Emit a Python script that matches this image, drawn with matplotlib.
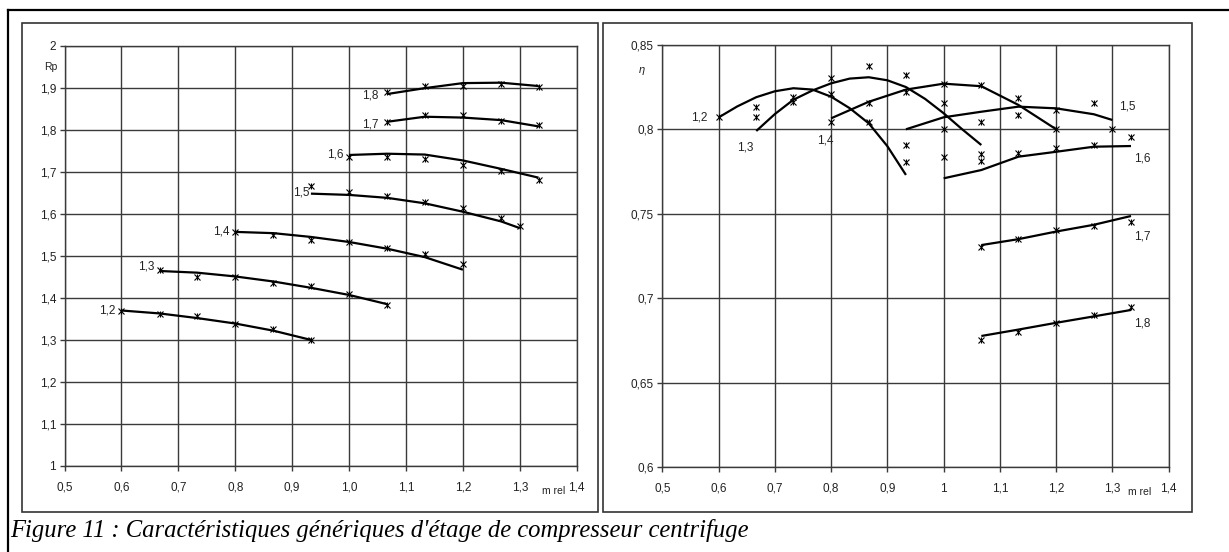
import matplotlib
matplotlib.use("Agg")
import matplotlib.pyplot as plt
from matplotlib.patches import Rectangle
from matplotlib.lines import Line2D

plt.rcParams['font.family'] = ['Liberation Sans', 'DejaVu Sans']

# ---- left panel : pressure ratio Rp vs relative mass flow ----
rp_labels = ['1,2', '1,3', '1,4', '1,5', '1,6', '1,7', '1,8']
rp_x = [
    [0.6, 0.667, 0.733, 0.8, 0.867, 0.933],
    [0.667, 0.733, 0.8, 0.867, 0.933, 1.0, 1.067],
    [0.8, 0.867, 0.933, 1.0, 1.067, 1.133, 1.2],
    [0.933, 1.0, 1.067, 1.133, 1.2, 1.267, 1.3],
    [1.0, 1.067, 1.133, 1.2, 1.267, 1.333],
    [1.067, 1.133, 1.2, 1.267, 1.333],
    [1.067, 1.133, 1.2, 1.267, 1.333],
]
rp_points = [
    [1.369, 1.361, 1.356, 1.339, 1.325, 1.300],
    [1.466, 1.450, 1.449, 1.436, 1.428, 1.409, 1.384],
    [1.557, 1.549, 1.537, 1.533, 1.518, 1.504, 1.480],
    [1.666, 1.652, 1.643, 1.629, 1.614, 1.589, 1.571],
    [1.734, 1.734, 1.730, 1.717, 1.703, 1.681],
    [1.819, 1.834, 1.834, 1.822, 1.812],
    [1.890, 1.904, 1.905, 1.910, 1.902],
]
rp_fit = [
    [1.370, 1.363, 1.352, 1.339, 1.322, 1.300],
    [1.464, 1.460, 1.451, 1.439, 1.424, 1.407, 1.385],
    [1.557, 1.554, 1.545, 1.533, 1.517, 1.497, 1.467],
    [1.648, 1.645, 1.638, 1.625, 1.605, 1.582, 1.566],
    [1.740, 1.743, 1.741, 1.727, 1.707, 1.686],
    [1.819, 1.831, 1.829, 1.823, 1.808],
    [1.885, 1.899, 1.911, 1.912, 1.904],
]

# ---- right panel : efficiency eta vs relative mass flow ----
eta_labels = ['1,2', '1,3', '1,4', '1,5', '1,6', '1,7', '1,8']
eta_x = [
    [0.6, 0.667, 0.733, 0.8, 0.867, 0.933],
    [0.667, 0.733, 0.8, 0.867, 0.933, 1.0, 1.067],
    [0.8, 0.867, 0.933, 1.0, 1.067, 1.133, 1.2],
    [0.933, 1.0, 1.067, 1.133, 1.2, 1.267, 1.3],
    [1.0, 1.067, 1.133, 1.2, 1.267, 1.333],
    [1.067, 1.133, 1.2, 1.267, 1.333],
    [1.067, 1.133, 1.2, 1.267, 1.333],
]
eta_points = [
    [0.807, 0.8134, 0.8193, 0.8207, 0.8041, 0.7808],
    [0.807, 0.8163, 0.8302, 0.8375, 0.832, 0.8154, 0.7853],
    [0.8041, 0.8157, 0.8223, 0.8268, 0.8262, 0.8183, 0.800],
    [0.7907, 0.800, 0.8045, 0.8085, 0.8114, 0.8154, 0.800],
    [0.7838, 0.781, 0.7858, 0.7888, 0.7907, 0.7956],
    [0.7305, 0.7351, 0.7404, 0.7428, 0.7453],
    [0.6754, 0.6802, 0.6852, 0.6901, 0.695],
]
# fitted curves, read at a finer step where they bend
eta_fit_x = [
    [0.6, 0.633, 0.667, 0.7, 0.733, 0.767, 0.8, 0.833, 0.867, 0.9, 0.933],
    [0.667, 0.7, 0.733, 0.767, 0.8, 0.833, 0.867, 0.9, 0.933, 0.967, 1.0, 1.033, 1.067],
    [0.8, 0.867, 0.933, 1.0, 1.067, 1.133, 1.2],
    [0.933, 1.0, 1.067, 1.133, 1.2, 1.267, 1.3],
    [1.0, 1.067, 1.133, 1.2, 1.267, 1.333],
    [1.067, 1.133, 1.2, 1.267, 1.333],
    [1.067, 1.133, 1.2, 1.267, 1.333],
]
eta_fit = [
    [0.807, 0.8135, 0.819, 0.8225, 0.8243, 0.8235, 0.8193, 0.8125, 0.8035, 0.790, 0.773],
    [0.799, 0.809, 0.8175, 0.823, 0.8272, 0.830, 0.8308, 0.829, 0.825, 0.818, 0.8095, 0.800, 0.7907],
    [0.8065, 0.8163, 0.8235, 0.827, 0.8255, 0.8144, 0.800],
    [0.800, 0.8071, 0.8104, 0.8134, 0.8124, 0.8089, 0.8055],
    [0.771, 0.7759, 0.7838, 0.7867, 0.7897, 0.7901],
    [0.7315, 0.735, 0.7395, 0.7435, 0.7487],
    [0.6777, 0.6815, 0.6855, 0.6893, 0.6931],
]

x_ticks = [0.5, 0.6, 0.7, 0.8, 0.9, 1.0, 1.1, 1.2, 1.3, 1.4]
rp_xticklabels = ['0,5', '0,6', '0,7', '0,8', '0,9', '1,0', '1,1', '1,2', '1,3', '1,4']
eta_xticklabels = ['0,5', '0,6', '0,7', '0,8', '0,9', '1', '1,1', '1,2', '1,3', '1,4']
rp_yticks = [1.0, 1.1, 1.2, 1.3, 1.4, 1.5, 1.6, 1.7, 1.8, 1.9, 2.0]
rp_yticklabels = ['1', '1,1', '1,2', '1,3', '1,4', '1,5', '1,6', '1,7', '1,8', '1,9', '2']
eta_yticks = [0.6, 0.65, 0.7, 0.75, 0.8, 0.85]
eta_yticklabels = ['0,6', '0,65', '0,7', '0,75', '0,8', '0,85']

caption = "Figure 11 : Caractéristiques génériques d'étage de compresseur centrifuge"

W, H = 1229, 552
fig = plt.figure(figsize=(W / 100, H / 100), dpi=100)
GRID = '#3a3a3a'
TXT = '#222222'


def px_rect(x0, y0, x1, y1):
    # pixel box (top-left origin) -> figure fraction
    return [x0 / W, 1 - y1 / H, (x1 - x0) / W, (y1 - y0) / H]


def setup_axes(ax, ylim, yticks, ylabels, xlabels, unit_pos):
    ax.set_xlim(0.5, 1.4)
    ax.set_ylim(*ylim)
    ax.set_xticks(x_ticks)
    ax.set_xticklabels(xlabels)
    ax.set_yticks(yticks)
    ax.set_yticklabels(ylabels)
    ax.grid(True, color=GRID, linewidth=1.0)
    ax.set_axisbelow(True)
    for s in ax.spines.values():
        s.set_color(GRID)
        s.set_linewidth(1.0)
    ax.tick_params(direction='out', length=3.5, width=1.0, color=GRID,
                   labelsize=8.5, labelcolor=TXT)
    ax.tick_params(axis='x', pad=7.5)
    ax.tick_params(axis='y', pad=2.5)
    ax.text(unit_pos[0], unit_pos[1], 'm rel', transform=ax.transAxes,
            fontsize=7.5, ha='center', va='center', color=TXT)


def draw_series(ax, xs_fit, fits, xs_pts, pts):
    for xf, f, xp, p in zip(xs_fit, fits, xs_pts, pts):
        ax.plot(xf, f, color='black', linewidth=1.6, solid_joinstyle='round',
                solid_capstyle='butt', zorder=3)
        # excel-like star marker: an x crossed by a short vertical bar
        ax.plot(xp, p, linestyle='none', marker='x', markersize=4,
                markeredgewidth=0.8, color='black', zorder=4)
        ax.plot(xp, p, linestyle='none', marker='|', markersize=5,
                markeredgewidth=0.8, color='black', zorder=4)


# left panel
ax1 = fig.add_axes(px_rect(64.5, 45.7, 576.7, 466.0))
setup_axes(ax1, (1.0, 2.0), rp_yticks, rp_yticklabels, rp_xticklabels,
           (0.955, -0.06))
draw_series(ax1, rp_x, rp_fit, rp_x, rp_points)
rp_offsets = [(-4, 0), (-4, 3), (-4, 0), (-1, 1), (-4, 0), (-6, -2), (-6, -1)]
for lab, x, f, off in zip(rp_labels, rp_x, rp_fit, rp_offsets):
    ax1.annotate(lab, xy=(x[0], f[0]), xytext=off, textcoords='offset points',
                 ha='right', va='center', fontsize=8.5, color=TXT)
ax1.text(-0.014, 0.949, 'Rp', transform=ax1.transAxes, ha='right',
         va='center', fontsize=7.5, color=TXT)

# right panel
ax2 = fig.add_axes(px_rect(662.3, 44.8, 1168.7, 467.3))
setup_axes(ax2, (0.6, 0.85), eta_yticks, eta_yticklabels, eta_xticklabels,
           (0.943, -0.058))
draw_series(ax2, eta_fit_x, eta_fit, eta_x, eta_points)
# labels 1,2 1,3 1,4 near the start, the others near the end of each curve
eta_anchor = ['start', 'start', 'start', 'end', 'end', 'end', 'end']
eta_offsets = [(-8, 0), (-8, -12), (-4, -16), (5, 10), (2, -9), (2, -15), (2, -10)]
eta_ha = ['right', 'center', 'center', 'left', 'left', 'left', 'left']
for lab, x, f, side, off, ha in zip(eta_labels, eta_fit_x, eta_fit, eta_anchor,
                                    eta_offsets, eta_ha):
    i = 0 if side == 'start' else -1
    ax2.annotate(lab, xy=(x[i], f[i]), xytext=off, textcoords='offset points',
                 ha=ha, va='center', fontsize=8.5, color=TXT)
ax2.text(-0.034, 0.94, 'η', transform=ax2.transAxes, ha='right',
         va='center', fontsize=8, style='italic', color=TXT)

# panel frames and outer border
for box in [(21.7, 22.5, 597.6, 512.0), (603.0, 22.5, 1191.7, 512.0)]:
    r = px_rect(*box)
    fig.patches.append(Rectangle((r[0], r[1]), r[2], r[3],
                                 transform=fig.transFigure, fill=False,
                                 edgecolor='#333333', linewidth=1.2))
fig.lines.append(Line2D([7.5 / W, 1.0], [1 - 9.5 / H, 1 - 9.5 / H],
                        transform=fig.transFigure, color='black', linewidth=1.6))
fig.lines.append(Line2D([7.5 / W, 7.5 / W], [0.0, 1 - 9.5 / H],
                        transform=fig.transFigure, color='black', linewidth=1.6))

fig.text(10 / W, 1 - 537 / H, caption, ha='left', va='baseline',
         fontsize=17.7, style='italic', family='Liberation Serif', color='black')

fig.savefig('out.png', dpi=100)
